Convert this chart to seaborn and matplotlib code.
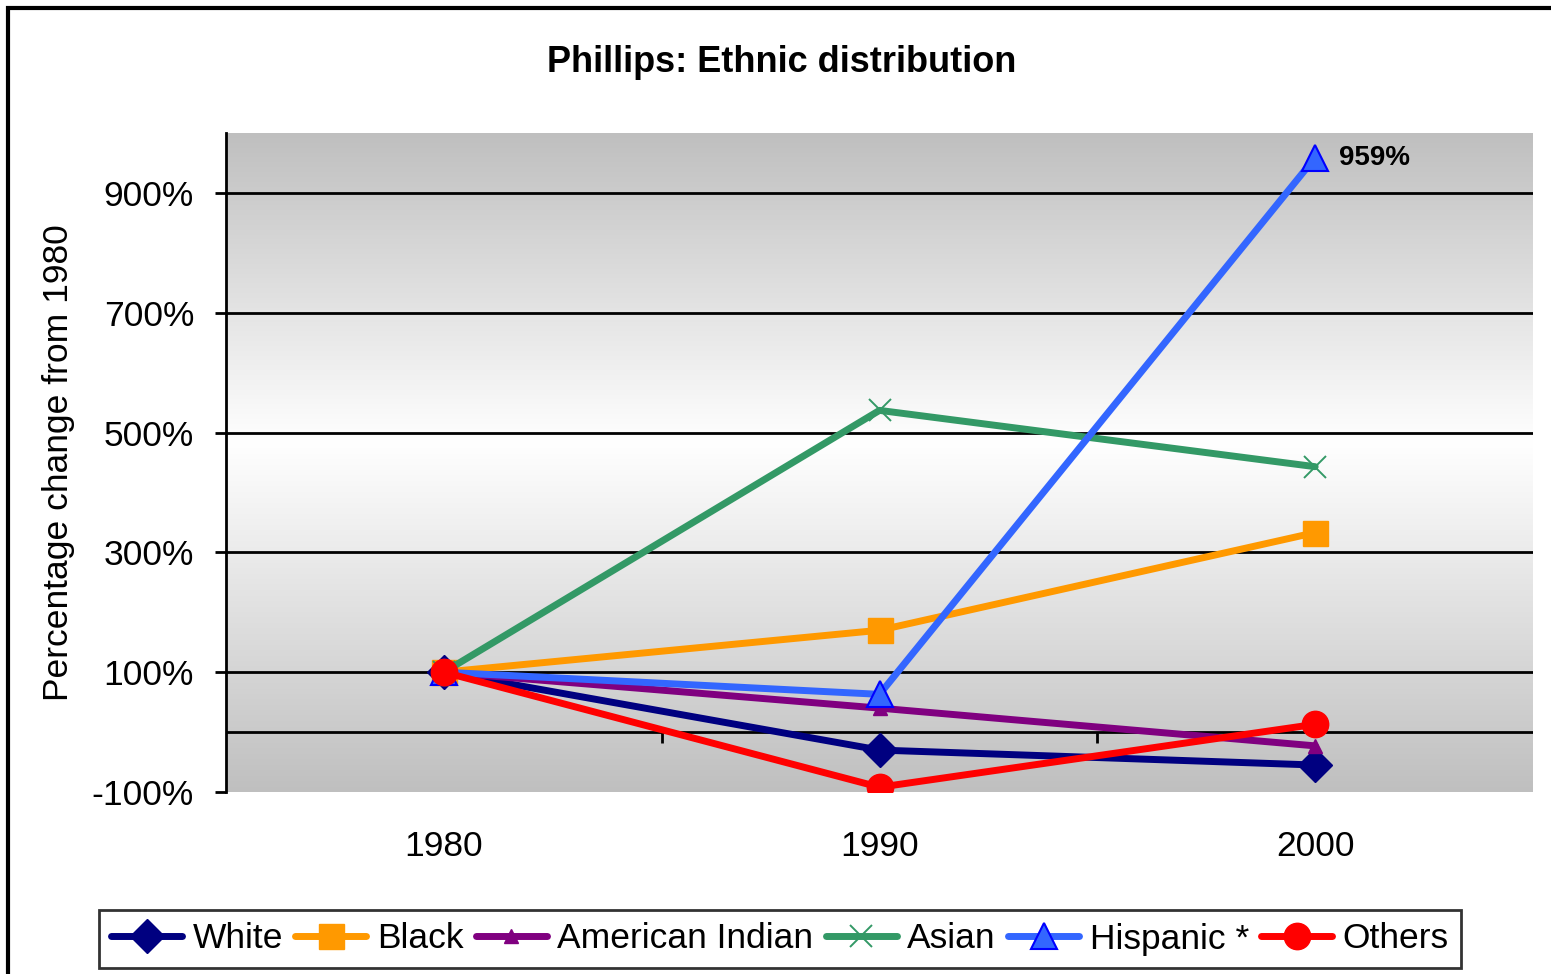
import numpy as np
import pandas as pd
import matplotlib
matplotlib.use("Agg")
import matplotlib.pyplot as plt
from matplotlib.patches import Rectangle
import seaborn as sns

# values (percent of 1980 level)
years = ["1980", "1990", "2000"]
white = [100, -30, -55]
black = [100, 170, 333]
american_indian = [100, 40, -23]
asian = [100, 537, 443]
hispanic = [100, 63, 959]
others = [100, -92, 13]
series_names = ["White", "Black", "American Indian", "Asian", "Hispanic *", "Others"]

sns.set_style("white")
plt.rcParams["font.family"] = ["Liberation Sans", "DejaVu Sans"]
plt.rcParams["text.color"] = "black"
plt.rcParams["axes.labelcolor"] = "black"
plt.rcParams["xtick.color"] = "black"
plt.rcParams["ytick.color"] = "black"

series = [white, black, american_indian, asian, hispanic, others]
rows = []
for name, vals in zip(series_names, series):
    for i, (yr, v) in enumerate(zip(years, vals)):
        rows.append({"series": name, "year": yr, "pos": i + 0.5, "value": v})
df = pd.DataFrame(rows)

styles = {
    "White":           dict(color="#000080", marker="D", ms=17, mec="#000080", mew=1),
    "Black":           dict(color="#FF9900", marker="s", ms=18, mec="#FF9900", mew=1),
    "American Indian": dict(color="#800080", marker="^", ms=10, mec="#800080", mew=1),
    "Asian":           dict(color="#339966", marker="x", ms=16, mec="#339966", mew=1.4),
    "Hispanic *":      dict(color="#3366FF", marker="^", ms=19, mec="#0000FF", mew=1.5),
    "Others":          dict(color="#FF0000", marker="o", ms=19, mec="#FF0000", mew=1),
}

fig = plt.figure(figsize=(15.51, 9.74), dpi=100)
ax = fig.add_axes([226 / 1551, 1 - 792 / 974, (1533 - 226) / 1551, (792 - 133) / 974])

# Excel-like gradient background (gray top, white middle, gray bottom)
t = np.linspace(0, 1, 256)
peak = 0.47
g = np.where(t < peak, 0.75 + 0.25 * (t / peak), 1.0 - 0.25 * ((t - peak) / (1 - peak)))
grad = np.stack([g, g, g], axis=-1)[:, None, :]
ax.imshow(grad, extent=[0, 3, -100, 1000], aspect="auto", zorder=0, origin="upper")
ax.set_ylim(-100, 1000)
ax.set_xlim(0, 3)

for yv in [100, 300, 500, 700, 900]:
    ax.axhline(yv, color="black", lw=2, zorder=1)
ax.axhline(0, color="black", lw=2, zorder=1)
ax.vlines([1, 2], -18, 0, color="black", lw=2, zorder=1)

handles = []
for name in series_names:
    st = styles[name]
    sub = df[df["series"] == name]
    sns.lineplot(data=sub, x="pos", y="value", ax=ax, color=st["color"], lw=5,
                 marker=st["marker"], markersize=st["ms"], markeredgecolor=st["mec"],
                 markeredgewidth=st["mew"], zorder=3, legend=False)
    handles.append(ax.lines[-1])

ax.text(2.5 + 0.055, hispanic[2], f"{hispanic[2]}%", fontsize=20, fontweight="bold",
        va="center", ha="left", zorder=5)

ax.set_yticks([-100, 100, 300, 500, 700, 900])
ax.set_yticklabels([f"{v}%" for v in [-100, 100, 300, 500, 700, 900]], fontsize=25.5)
ax.set_xticks([0.5, 1.5, 2.5])
ax.set_xticklabels(years, fontsize=25.5)
ax.tick_params(axis="x", length=0, pad=27)
ax.tick_params(axis="y", direction="out", length=8, width=2, color="black", pad=15, left=True)
ax.set_xlabel("")
ax.set_ylabel("Percentage change from 1980", fontsize=25.5, labelpad=12)
for s in ["top", "right", "bottom"]:
    ax.spines[s].set_visible(False)
ax.spines["left"].set_color("black")
ax.spines["left"].set_linewidth(2)

fig.text(782 / 1551, 1 - 63 / 974, "Phillips: Ethnic distribution", fontsize=26,
         fontweight="bold", ha="center", va="center")

leg = fig.legend(handles, series_names, loc="center", ncol=6,
                 bbox_to_anchor=(780 / 1551, 1 - 939 / 974), fontsize=25.5, frameon=True,
                 fancybox=False, edgecolor="black", handlelength=2.0, handletextpad=0.3,
                 columnspacing=0.35, borderpad=0.35)
leg.get_frame().set_linewidth(2)

fig.patches.append(Rectangle((8 / 1551, -0.05), 1.1, 1 - 8 / 974 + 0.05, transform=fig.transFigure,
                             fill=False, edgecolor="black", lw=3))

fig.savefig("out.png", dpi=100)
